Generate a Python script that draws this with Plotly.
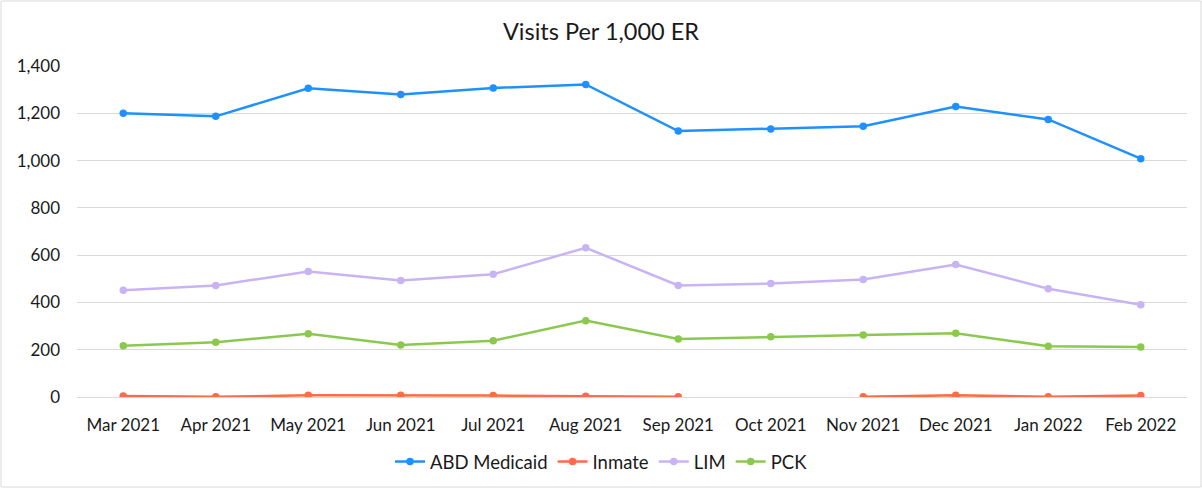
import plotly.graph_objects as go

months = ["Mar 2021", "Apr 2021", "May 2021", "Jun 2021", "Jul 2021", "Aug 2021",
          "Sep 2021", "Oct 2021", "Nov 2021", "Dec 2021", "Jan 2022", "Feb 2022"]
abd_medicaid = [1200, 1187, 1306, 1279, 1307, 1322, 1125, 1134, 1145, 1229, 1174, 1008]
inmate = [4, 1, 7, 7, 6, 3, 1, None, 1, 7, 1, 6]
lim = [451, 472, 531, 493, 519, 631, 472, 480, 497, 560, 458, 390]
pck = [217, 232, 268, 220, 238, 323, 245, 255, 262, 270, 215, 212]

series = [
    ("ABD Medicaid", abd_medicaid, "#1E90FF"),
    ("Inmate", inmate, "#FF6A48"),
    ("LIM", lim, "#C8B4F4"),
    ("PCK", pck, "#8BC94E"),
]

fig = go.Figure()
for name, vals, color in series:
    fig.add_trace(go.Scatter(
        x=months, y=vals, name=name, mode="lines+markers",
        line=dict(color=color, width=2.5),
        marker=dict(color=color, size=7.5),
        connectgaps=False,
    ))

W, H = 1202, 488
ml, mr, mt, mb = 77, 15, 66, 91
pw, ph = W - ml - mr, H - mt - mb

fig.update_layout(
    width=W, height=H,
    margin=dict(l=ml, r=mr, t=mt, b=mb, autoexpand=False),
    paper_bgcolor="white", plot_bgcolor="white",
    font=dict(family="Lato, Open Sans, sans-serif", size=17, color="#1a1a1a"),
    title=dict(text="Visits Per 1,000 ER", x=0.5, xanchor="center", y=1 - 32 / H,
               yanchor="middle", font=dict(size=23.5, color="#1a1a1a")),
    showlegend=True,
    legend=dict(orientation="h", x=(390 - ml) / pw, xanchor="left",
                y=-(462 - mt - ph) / ph, yanchor="middle", font=dict(size=18.5),
                itemwidth=30, tracegroupgap=0),
    xaxis=dict(showgrid=False, showline=False, ticks="", tickfont=dict(size=17),
               range=[-0.5, 11.5], ticklabelstandoff=16),
    yaxis=dict(range=[0, 1400], dtick=200, tickformat=",", showgrid=True,
               gridcolor="#D9D9D9", gridwidth=1, zeroline=True,
               zerolinecolor="#D9D9D9", zerolinewidth=1,
               showline=False, ticks="", tickfont=dict(size=17),
               ticklabelstandoff=16),
)

fig.add_shape(type="rect", xref="paper", yref="paper",
              x0=-(ml - 1) / pw, x1=1 + (mr - 1) / pw,
              y0=-(mb - 1) / ph, y1=1 + (mt - 1) / ph,
              line=dict(color="#D9D9D9", width=1), layer="below")

fig.write_html("out.html", config={"displayModeBar": False},
               post_script="document.body.style.margin='0';document.body.style.overflow='hidden';")
